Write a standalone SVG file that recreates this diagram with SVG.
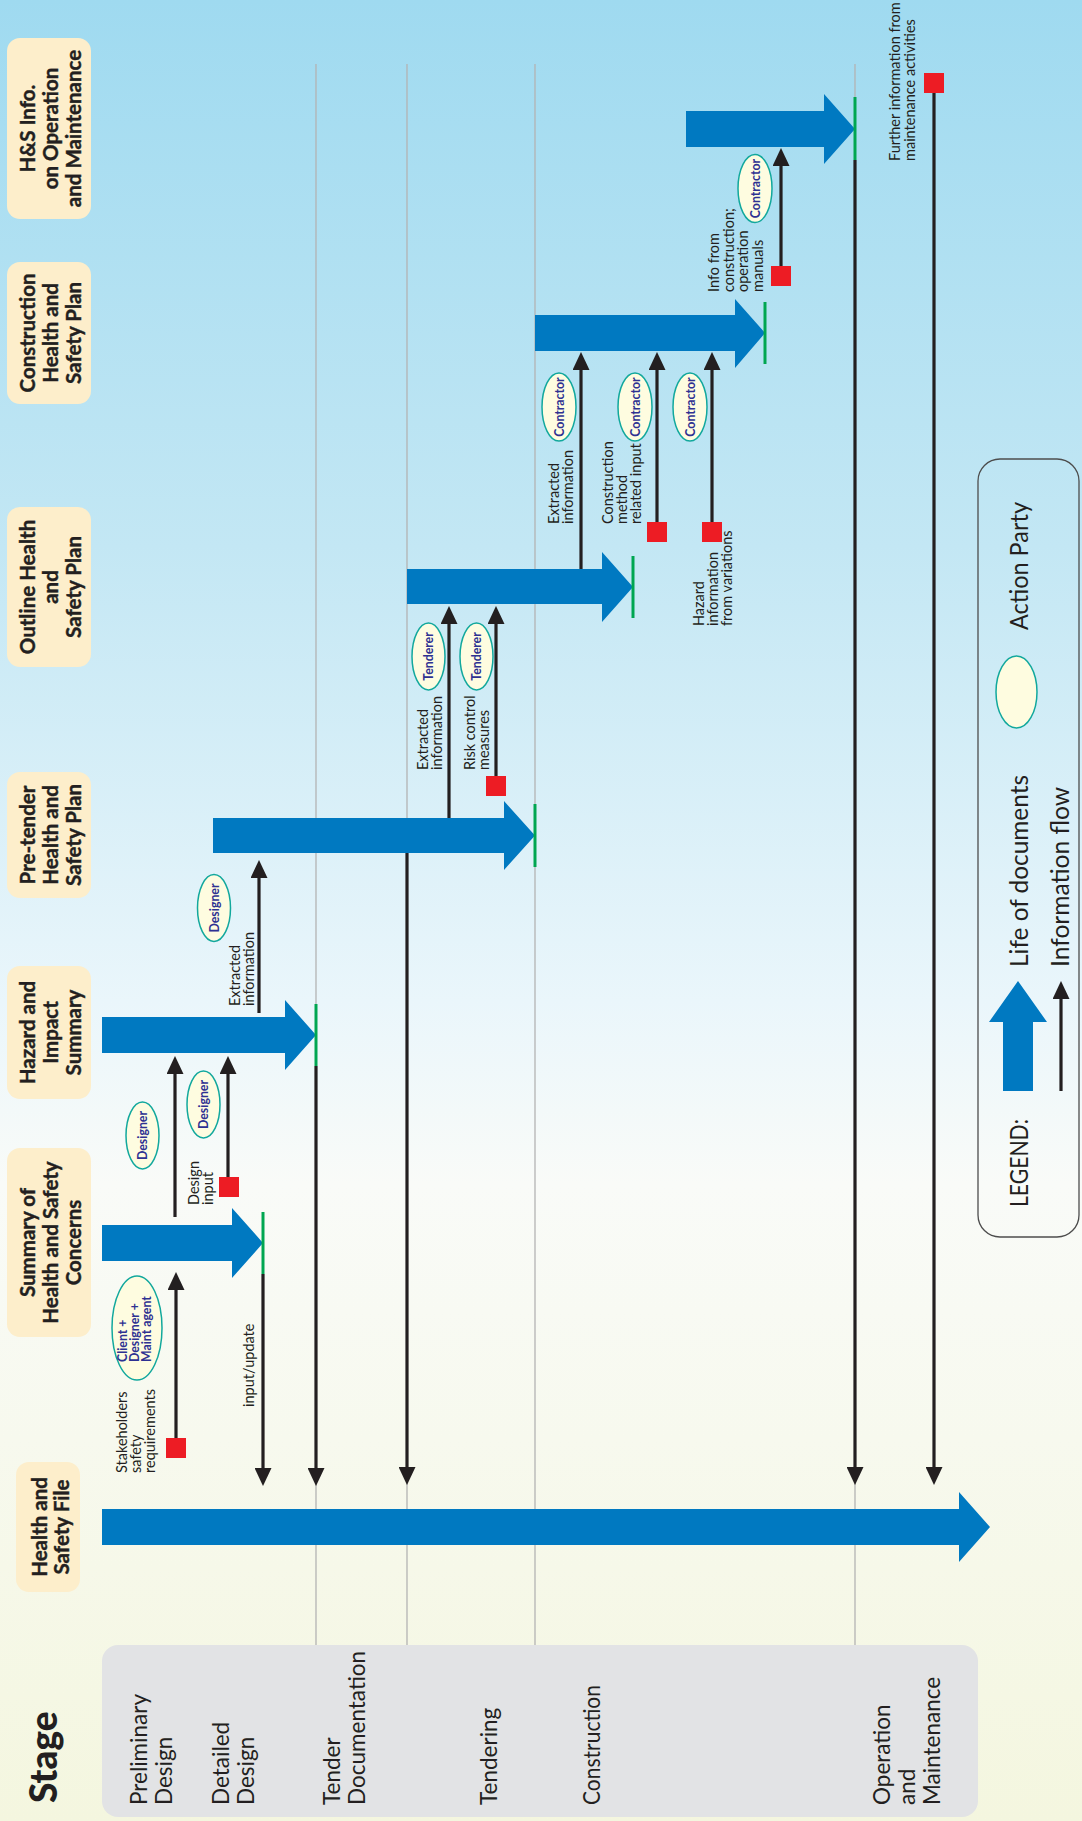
<svg xmlns="http://www.w3.org/2000/svg" width="1082" height="1821" viewBox="0 0 1082 1821">
<defs>
<linearGradient id="bg" x1="0" y1="0" x2="0" y2="1">
<stop offset="0" stop-color="#9fdaf0"/>
<stop offset="0.3" stop-color="#c3e7f4"/>
<stop offset="0.55" stop-color="#eaf6fb"/>
<stop offset="0.65" stop-color="#f9fbf8"/>
<stop offset="1" stop-color="#f4f6df"/>
</linearGradient>
<marker id="ah" markerWidth="18" markerHeight="17" refX="8" refY="8.5" orient="auto" markerUnits="userSpaceOnUse">
<path d="M0,0 L18,8.5 L0,17 z" fill="#231f20"/>
</marker>
<style>
text{font-family:Lato,"Open Sans","DejaVu Sans",sans-serif;fill:#231f20}
.doc{fill:#fdeecb}
.dt{font-size:20.5px;font-weight:bold;text-anchor:middle;stroke:#231f20;stroke-width:0.4}
.st{font-size:22.5px}
.lb{font-size:14.5px}
.ap{fill:#fefce0;stroke:#12a89d;stroke-width:1.5}
.apt{font-size:12.3px;font-weight:bold;fill:#2e3192;text-anchor:middle}
.grid{stroke:#b3b3b3;stroke-width:1.3}
.blue{fill:#0079c1}
.green{stroke:#00a651;stroke-width:3}
.flow{stroke:#231f20;stroke-width:3.2;fill:none;marker-end:url(#ah)}
.sq{fill:#ed1c24}
.lg{font-size:24.5px}
</style>
</defs>
<rect x="0" y="0" width="1082" height="1821" fill="url(#bg)"/>

<g id="stage-panel">
<rect x="102" y="1645" width="876" height="172" rx="16" fill="#e2e3e5"/>
<text transform="translate(57,1803) rotate(-90)" style="font-size:37px;font-weight:900">Stage</text>
<text class="st" transform="translate(147,1805) rotate(-90)"><tspan x="0">Preliminary</tspan><tspan x="0" dy="25">Design</tspan></text>
<text class="st" transform="translate(229,1805) rotate(-90)"><tspan x="0">Detailed</tspan><tspan x="0" dy="25">Design</tspan></text>
<text class="st" transform="translate(340,1805) rotate(-90)"><tspan x="0">Tender</tspan><tspan x="0" dy="25">Documentation</tspan></text>
<text class="st" transform="translate(497,1805) rotate(-90)">Tendering</text>
<text class="st" transform="translate(600,1805) rotate(-90)" textLength="120" lengthAdjust="spacingAndGlyphs">Construction</text>
<text class="st" transform="translate(890,1805) rotate(-90)"><tspan x="0">Operation</tspan><tspan x="0" dy="25">and</tspan><tspan x="0" dy="25">Maintenance</tspan></text>
</g>

<g id="stage-dividers">
<line class="grid" x1="316" y1="64" x2="316" y2="1645"/>
<line class="grid" x1="407" y1="64" x2="407" y2="1645"/>
<line class="grid" x1="535" y1="64" x2="535" y2="1645"/>
<line class="grid" x1="855" y1="64" x2="855" y2="1645"/>
</g>

<g id="doc-hs-info">
<rect class="doc" x="7" y="38" width="84" height="181" rx="13"/>
<text class="dt" transform="translate(35,128.5) rotate(-90)"><tspan x="0">H&amp;S Info.</tspan><tspan x="0" dy="23">on Operation</tspan><tspan x="0" dy="23">and Maintenance</tspan></text>
<polygon class="blue" points="686,111 824,111 824,94 855,129 824,164 824,147 686,147"/>
<line class="green" x1="855" y1="97" x2="855" y2="160"/>
</g>

<g id="doc-construction-hsp">
<rect class="doc" x="7" y="262" width="84" height="142" rx="13"/>
<text class="dt" transform="translate(35,333) rotate(-90)"><tspan x="0">Construction</tspan><tspan x="0" dy="23">Health and</tspan><tspan x="0" dy="23">Safety Plan</tspan></text>
<polygon class="blue" points="535,315 735,315 735,299 765,333 735,368 735,351 535,351"/>
<line class="green" x1="765" y1="302" x2="765" y2="364"/>
</g>

<g id="doc-outline-hsp">
<rect class="doc" x="7" y="507" width="84" height="160" rx="13"/>
<text class="dt" transform="translate(35,587) rotate(-90)"><tspan x="0">Outline Health</tspan><tspan x="0" dy="23">and</tspan><tspan x="0" dy="23">Safety Plan</tspan></text>
<polygon class="blue" points="407,569 602,569 602,552 633,587 602,622 602,604 407,604"/>
<line class="green" x1="633" y1="556" x2="633" y2="618"/>
</g>

<g id="doc-pretender-hsp">
<rect class="doc" x="7" y="772" width="84" height="126" rx="13"/>
<text class="dt" transform="translate(35,835) rotate(-90)"><tspan x="0">Pre-tender</tspan><tspan x="0" dy="23">Health and</tspan><tspan x="0" dy="23">Safety Plan</tspan></text>
<polygon class="blue" points="213,818 504,818 504,801 535,835.5 504,870 504,853 213,853"/>
<line class="green" x1="535" y1="804" x2="535" y2="867"/>
</g>

<g id="doc-hazard-impact">
<rect class="doc" x="7" y="966" width="84" height="133" rx="13"/>
<text class="dt" transform="translate(35,1032.5) rotate(-90)"><tspan x="0">Hazard and</tspan><tspan x="0" dy="23">Impact</tspan><tspan x="0" dy="23">Summary</tspan></text>
<polygon class="blue" points="102,1017 285,1017 285,1000 316,1035 285,1070 285,1053 102,1053"/>
<line class="green" x1="316" y1="1004" x2="316" y2="1066"/>
</g>

<g id="doc-summary-hsc">
<rect class="doc" x="7" y="1148" width="84" height="189" rx="13"/>
<text class="dt" transform="translate(35,1242.5) rotate(-90)"><tspan x="0">Summary of</tspan><tspan x="0" dy="23">Health and Safety</tspan><tspan x="0" dy="23">Concerns</tspan></text>
<polygon class="blue" points="102,1225 232,1225 232,1208 263,1243 232,1278 232,1261 102,1261"/>
<line class="green" x1="263" y1="1212" x2="263" y2="1274"/>
</g>

<g id="doc-hs-file">
<rect class="doc" x="16" y="1462" width="64" height="130" rx="13"/>
<text class="dt" transform="translate(47,1527) rotate(-90)"><tspan x="0">Health and</tspan><tspan x="0" dy="22">Safety File</tspan></text>
<polygon class="blue" points="102,1509 959,1509 959,1492 990,1527 959,1562 959,1545 102,1545"/>
</g>

<g id="connectors">
<line class="flow" x1="263" y1="1274" x2="263" y2="1476"/>
<line class="flow" x1="316" y1="1066" x2="316" y2="1476"/>
<line class="flow" x1="407" y1="853" x2="407" y2="1475"/>
<line class="flow" x1="855" y1="160" x2="855" y2="1475"/>
<line class="flow" x1="934" y1="93" x2="934" y2="1475"/>
<line class="flow" x1="176" y1="1438" x2="176" y2="1282"/>
<line class="flow" x1="175" y1="1217" x2="175" y2="1066"/>
<line class="flow" x1="228" y1="1177" x2="228" y2="1066"/>
<line class="flow" x1="259" y1="1013" x2="259" y2="870"/>
<line class="flow" x1="449" y1="818" x2="449" y2="616"/>
<line class="flow" x1="496" y1="776" x2="496" y2="616"/>
<line class="flow" x1="581" y1="569" x2="581" y2="362"/>
<line class="flow" x1="657" y1="522" x2="657" y2="362"/>
<line class="flow" x1="712" y1="522" x2="712" y2="362"/>
<line class="flow" x1="781" y1="266" x2="781" y2="158"/>
</g>

<g id="sources">
<rect class="sq" x="166" y="1438" width="20" height="20"/>
<rect class="sq" x="219" y="1177" width="20" height="20"/>
<rect class="sq" x="486" y="776" width="20" height="20"/>
<rect class="sq" x="647" y="522" width="20" height="20"/>
<rect class="sq" x="702" y="522" width="20" height="20"/>
<rect class="sq" x="771" y="266" width="20" height="20"/>
<rect class="sq" x="924" y="73" width="20" height="20"/>
</g>

<g id="flow-labels">
<text class="lb" transform="translate(127,1473) rotate(-90)"><tspan x="0">Stakeholders</tspan><tspan x="0" dy="14">safety</tspan><tspan x="0" dy="14">requirements</tspan></text>
<text class="lb" transform="translate(254,1407) rotate(-90)">input/update</text>
<text class="lb" transform="translate(199,1205) rotate(-90)"><tspan x="0">Design</tspan><tspan x="0" dy="14">input</tspan></text>
<text class="lb" transform="translate(240,1006) rotate(-90)"><tspan x="0">Extracted</tspan><tspan x="0" dy="14">information</tspan></text>
<text class="lb" transform="translate(428,770) rotate(-90)"><tspan x="0">Extracted</tspan><tspan x="0" dy="14">information</tspan></text>
<text class="lb" transform="translate(475,770) rotate(-90)"><tspan x="0">Risk control</tspan><tspan x="0" dy="14">measures</tspan></text>
<text class="lb" transform="translate(559,524) rotate(-90)"><tspan x="0">Extracted</tspan><tspan x="0" dy="14">information</tspan></text>
<text class="lb" transform="translate(613,524) rotate(-90)"><tspan x="0">Construction</tspan><tspan x="0" dy="14">method</tspan><tspan x="0" dy="14">related input</tspan></text>
<text class="lb" transform="translate(704,626) rotate(-90)"><tspan x="0">Hazard</tspan><tspan x="0" dy="14">information</tspan><tspan x="0" dy="14">from variations</tspan></text>
<text class="lb" transform="translate(719,292) rotate(-90)"><tspan x="0">Info from</tspan><tspan x="0" dy="14.5">construction;</tspan><tspan x="0" dy="14.5">operation</tspan><tspan x="0" dy="14.5">manuals</tspan></text>
<text class="lb" transform="translate(900,161) rotate(-90)"><tspan x="0">Further information from</tspan><tspan x="0" dy="15">maintenance activities</tspan></text>
</g>

<g id="action-parties">
<g id="ap-client">
<ellipse class="ap" cx="137" cy="1328" rx="25" ry="52"/>
<text class="apt" style="text-anchor:start" transform="translate(127,1362) rotate(-90)"><tspan x="0">Client +</tspan><tspan x="0" dy="12">Designer +</tspan><tspan x="0" dy="12">Maint agent</tspan></text>
</g>
<g id="ap-designer-1"><ellipse class="ap" cx="142.5" cy="1135.5" rx="16.5" ry="33.5"/><text class="apt" transform="translate(147,1135.5) rotate(-90)">Designer</text></g>
<g id="ap-designer-2"><ellipse class="ap" cx="203.5" cy="1104.5" rx="16.5" ry="33.5"/><text class="apt" transform="translate(208,1104.5) rotate(-90)">Designer</text></g>
<g id="ap-designer-3"><ellipse class="ap" cx="214" cy="908" rx="16.5" ry="33.5"/><text class="apt" transform="translate(218.5,908) rotate(-90)">Designer</text></g>
<g id="ap-tenderer-1"><ellipse class="ap" cx="428.5" cy="656.5" rx="16.5" ry="33.5"/><text class="apt" transform="translate(433,656.5) rotate(-90)">Tenderer</text></g>
<g id="ap-tenderer-2"><ellipse class="ap" cx="476.5" cy="656.5" rx="16.5" ry="33.5"/><text class="apt" transform="translate(481,656.5) rotate(-90)">Tenderer</text></g>
<g id="ap-contractor-1"><ellipse class="ap" cx="559" cy="407" rx="17" ry="34"/><text class="apt" transform="translate(563.5,407) rotate(-90)">Contractor</text></g>
<g id="ap-contractor-2"><ellipse class="ap" cx="635" cy="407" rx="17" ry="34"/><text class="apt" transform="translate(639.5,407) rotate(-90)">Contractor</text></g>
<g id="ap-contractor-3"><ellipse class="ap" cx="690" cy="407" rx="17" ry="34"/><text class="apt" transform="translate(694.5,407) rotate(-90)">Contractor</text></g>
<g id="ap-contractor-4"><ellipse class="ap" cx="755" cy="188.5" rx="17" ry="34"/><text class="apt" transform="translate(759.5,188.5) rotate(-90)">Contractor</text></g>
</g>

<g id="legend">
<rect x="978" y="459" width="101" height="778" rx="22" fill="none" stroke="#4d4d4d" stroke-width="1.3"/>
<text class="lg" transform="translate(1028,1207) rotate(-90)" textLength="88" lengthAdjust="spacingAndGlyphs">LEGEND:</text>
<polygon class="blue" points="1003,1091 1003,1022 989,1022 1018,981 1047,1022 1033,1022 1033,1091"/>
<line class="flow" x1="1061" y1="1091" x2="1061" y2="991"/>
<text class="lg" transform="translate(1028,967) rotate(-90)" textLength="192" lengthAdjust="spacingAndGlyphs">Life of documents</text>
<text class="lg" transform="translate(1069,967) rotate(-90)" textLength="180" lengthAdjust="spacingAndGlyphs">Information flow</text>
<ellipse class="ap" cx="1016.5" cy="692" rx="20.5" ry="36"/>
<text class="lg" transform="translate(1028,630) rotate(-90)" textLength="128" lengthAdjust="spacingAndGlyphs">Action Party</text>
</g>
</svg>
